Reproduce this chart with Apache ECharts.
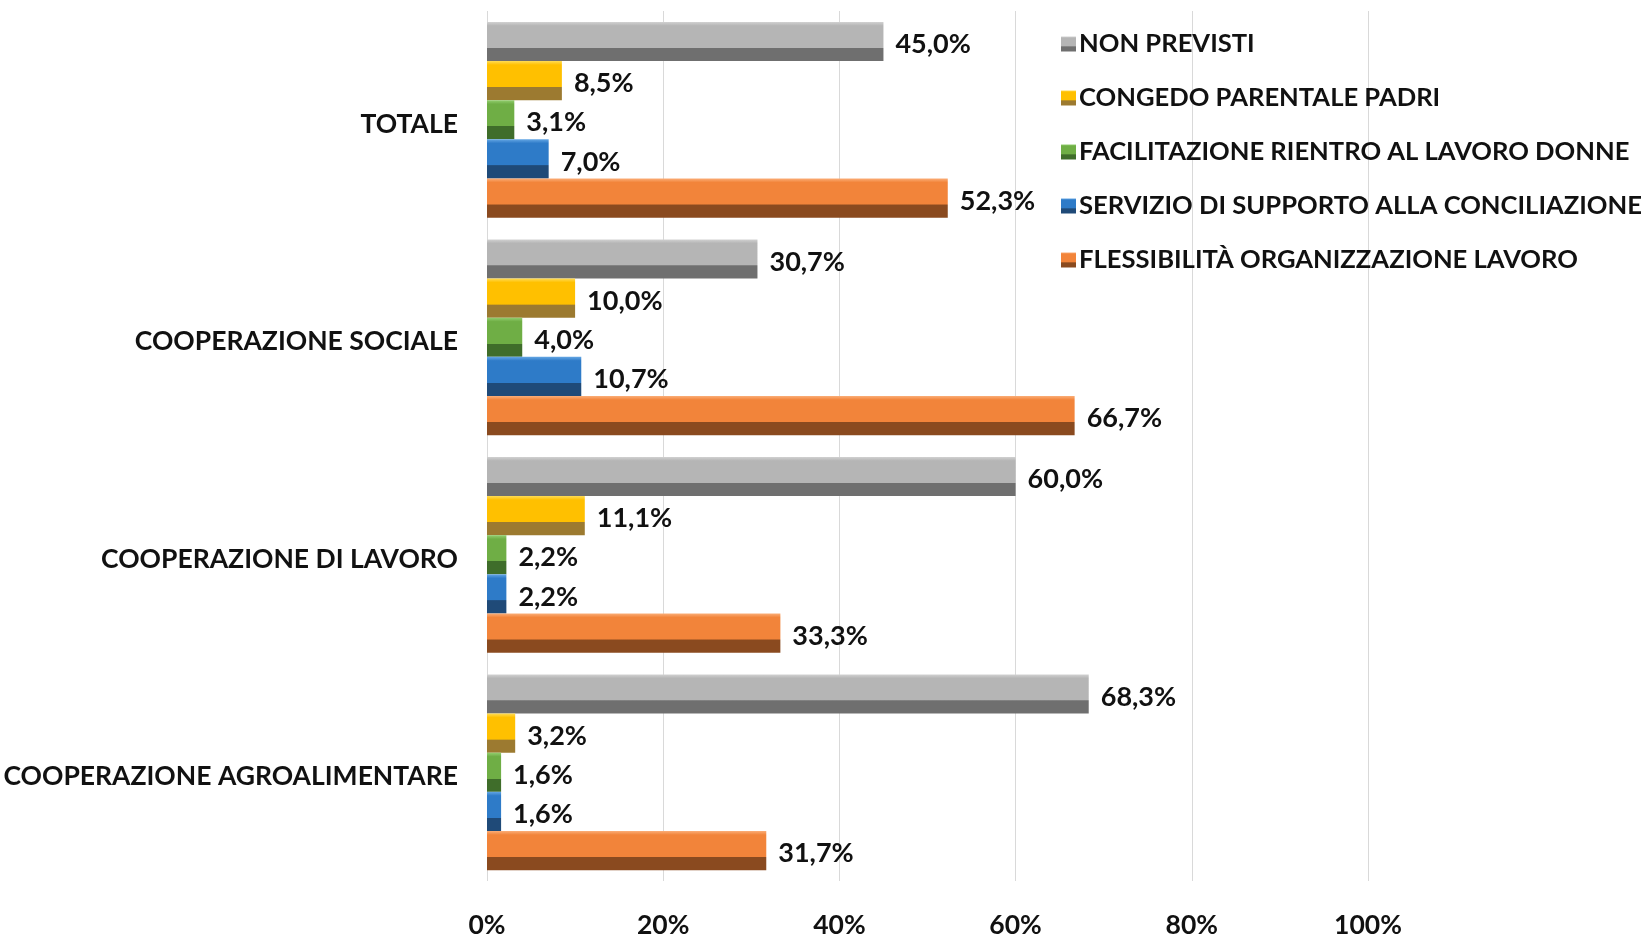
<!DOCTYPE html>
<html>
<head>
<meta charset="utf-8">
<script src="https://cdn.jsdelivr.net/npm/echarts@6/dist/echarts.min.js"></script>
<style>
  html, body { margin: 0; padding: 0; background: #fff; }
  #chart { width: 1648px; height: 935px; }
</style>
</head>
<body>
<div id="chart"></div>
<script>
// categorie (dall'alto in basso)
var categories = ["TOTALE", "COOPERAZIONE SOCIALE", "COOPERAZIONE DI LAVORO", "COOPERAZIONE AGROALIMENTARE"];
var seriesNames = [
  "NON PREVISTI",
  "CONGEDO PARENTALE PADRI",
  "FACILITAZIONE RIENTRO AL LAVORO DONNE",
  "SERVIZIO DI SUPPORTO ALLA CONCILIAZIONE",
  "FLESSIBILITÀ ORGANIZZAZIONE LAVORO"
];
var nonPrevisti = [45.0, 30.7, 60.0, 68.3];
var congedoPadri = [8.5, 10.0, 11.1, 3.2];
var facilitazione = [3.1, 4.0, 2.2, 1.6];
var servizioSupporto = [7.0, 10.7, 2.2, 1.6];
var flessibilita = [52.3, 66.7, 33.3, 31.7];
var xTicks = [0, 20, 40, 60, 80, 100];

var values = [nonPrevisti, congedoPadri, facilitazione, servizioSupporto, flessibilita];
// colori: bordo chiaro, faccia, parte scura
var palette = [
  ["#d2d2d2", "#b5b5b5", "#6f6f6f"],
  ["#ffdc55", "#ffc000", "#9c7a30"],
  ["#93cf70", "#6fae45", "#3f6d2a"],
  ["#64a6e4", "#2e7bc8", "#1f4a78"],
  ["#fbae78", "#f2843a", "#8a4a1f"]
];
var FONT = "Lato, 'Liberation Sans', sans-serif";

function bevel(c) {
  return {
    type: "linear", x: 0, y: 0, x2: 0, y2: 1,
    colorStops: [
      { offset: 0, color: c[0] },
      { offset: 0.1, color: c[1] },
      { offset: 0.66, color: c[1] },
      { offset: 0.67, color: c[2] },
      { offset: 1, color: c[2] }
    ]
  };
}

var series = [];
for (var i = 0; i < seriesNames.length; i++) {
  series.push({
    name: seriesNames[i],
    type: "bar",
    data: values[i],
    barGap: "0%",
    barCategoryGap: "10%",
    itemStyle: { color: bevel(palette[i]) },
    label: {
      show: true,
      position: "right",
      distance: 12,
      offset: [0, 3],
      color: "#111",
      fontFamily: FONT,
      fontWeight: "bold",
      fontSize: 27,
      formatter: function (p) { return p.value.toFixed(1).replace(".", ",") + "%"; }
    }
  });
}

var myChart = echarts.init(document.getElementById("chart"));
var option = {
  animation: false,
  grid: { left: 487, right: 280, top: 11, bottom: 54, outerBoundsMode: "none", containLabel: false },
  legend: {
    data: seriesNames,
    orient: "vertical",
    left: 1056,
    top: 26,
    itemGap: 28,
    itemWidth: 15,
    itemHeight: 15,
    icon: "rect",
    textStyle: { fontFamily: FONT, fontWeight: "bold", fontSize: 25.6, color: "#111", padding: [0, 0, 0, -2] }
  },
  xAxis: {
    type: "value",
    min: 0,
    max: 100,
    interval: 20,
    axisLine: { show: false },
    axisTick: { show: false },
    splitLine: { lineStyle: { color: "#d9d9d9", width: 1 } },
    axisLabel: {
      margin: 31,
      color: "#111",
      fontFamily: FONT,
      fontWeight: "bold",
      fontSize: 26.5,
      formatter: "{value}%"
    }
  },
  yAxis: {
    type: "category",
    inverse: true,
    data: categories,
    axisLine: { show: false },
    axisTick: { show: false },
    axisLabel: {
      margin: 29,
      color: "#111",
      formatter: function (v) { return "{c|" + v + "}"; },
      rich: {
        c: {
          padding: [9, 0, 0, 0],
          color: "#111",
          fontFamily: FONT,
          fontWeight: "bold",
          fontSize: 26.5
        }
      }
    }
  },
  series: series
};
myChart.setOption(option);
</script>
</body>
</html>
